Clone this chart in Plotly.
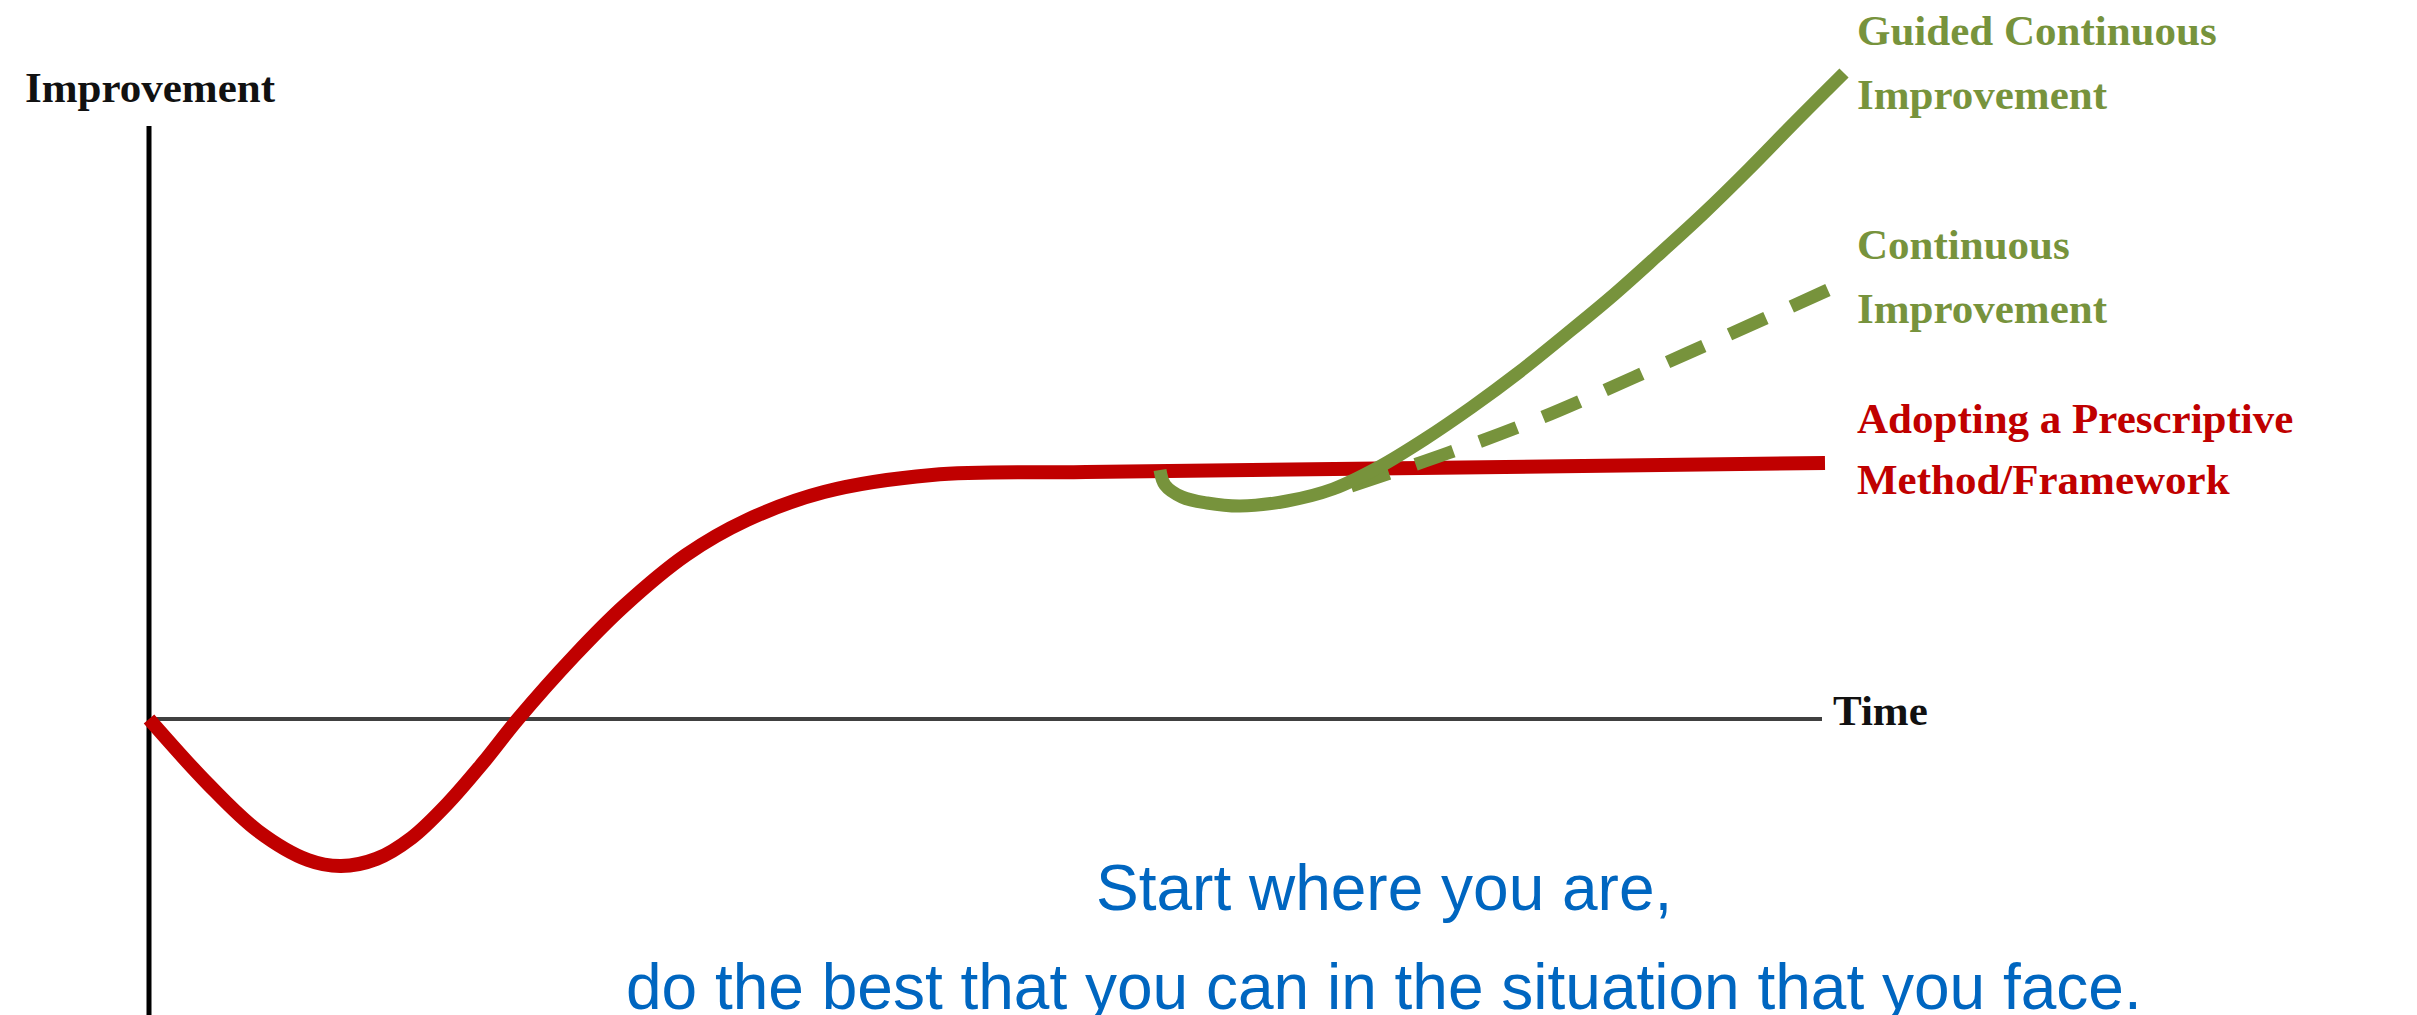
import plotly.graph_objects as go

# ---- data (time units, improvement units; origin at the axis crossing) ----
red_t = [0, 5.9, 10.9, 15.9, 19.2, 22.74, 26.28, 29.82, 33.36, 36.9, 42.6, 47.5, 53.7, 59.8, 67.5, 78.3, 93.7, 167.6]
red_v = [0, -6.5, -11.2, -14.1, -14.7, -13.99, -11.87, -8.5, -4.43, 0.0, 6.4, 11.3, 16.4, 19.9, 22.7, 24.4, 24.7, 25.6]

guided_t = [101.1, 101.6, 103.3, 105.8, 109.1, 113.8, 118.4, 123.0, 127.6, 132.3, 136.9, 141.5,
            146.1, 150.7, 155.4, 160.0, 164.6, 169.5]
guided_v = [24.9, 23.4, 22.2, 21.6, 21.3, 21.8, 23.0, 25.2, 28.0, 31.2, 34.6, 38.3,
            42.1, 46.2, 50.5, 55.0, 59.7, 64.6]

cont_t = [120.2, 129.9, 139.4, 153.9, 167.9]
cont_v = [23.3, 26.6, 30.2, 36.6, 42.9]

axis_time_t = [0, 167.3]
axis_time_v = [0, 0]
axis_impr_t = [0, 0]
axis_impr_v = [59.3, -32.0]

RED = "#C00000"
GREEN = "#77933C"
BLUE = "#0066C0"
SERIF = "Liberation Serif"

fig = go.Figure()

fig.add_trace(go.Scatter(x=axis_time_t, y=axis_time_v, mode="lines",
                         line=dict(color="#404040", width=4), hoverinfo="skip"))
fig.add_trace(go.Scatter(x=axis_impr_t, y=axis_impr_v, mode="lines",
                         line=dict(color="#000000", width=5), hoverinfo="skip"))
fig.add_trace(go.Scatter(x=red_t, y=red_v, mode="lines",
                         line=dict(color=RED, width=14, shape="spline", smoothing=1.0),
                         name="Adopting a Prescriptive Method/Framework"))
fig.add_trace(go.Scatter(x=cont_t, y=cont_v, mode="lines",
                         line=dict(color=GREEN, width=13, dash="40px,28px", shape="spline"),
                         name="Continuous Improvement"))
fig.add_trace(go.Scatter(x=guided_t, y=guided_v, mode="lines",
                         line=dict(color=GREEN, width=13, shape="spline", smoothing=1.0),
                         name="Guided Continuous Improvement"))

def label(text, x, y, color, size=43, family=SERIF, xanchor="left", bold=True):
    fig.add_annotation(x=x, y=y, xref="x", yref="y", text=(f"<b>{text}</b>" if bold else text),
                       showarrow=False, xanchor=xanchor, yanchor="middle",
                       font=dict(family=family, size=size, color=color))

label("Improvement", -12.6, 63.2, "#111111")
label("Time", 168.2, 0.9, "#111111")
label("Guided Continuous", 170.6, 68.9, GREEN)
label("Improvement", 170.6, 62.5, GREEN)
label("Continuous", 170.6, 47.5, GREEN)
label("Improvement", 170.6, 41.1, GREEN)
label("Adopting a Prescriptive", 170.6, 30.1, RED)
label("Method/Framework", 170.6, 24.0, RED)
label("Start where you are,", 123.5, -16.9, BLUE, size=64, family="Liberation Sans",
      xanchor="center", bold=False)
label("do the best that you can in the situation that you face.", 123.5, -26.8, BLUE,
      size=64, family="Liberation Sans", xanchor="center", bold=False)

fig.update_layout(
    width=2417, height=1015,
    margin=dict(l=0, r=0, t=0, b=0),
    paper_bgcolor="white", plot_bgcolor="white",
    showlegend=False,
    xaxis=dict(range=[-14.1, 227.6], visible=False, fixedrange=True),
    yaxis=dict(range=[-30.4, 71.1], visible=False, fixedrange=True),
)

fig.write_html("out.html")
